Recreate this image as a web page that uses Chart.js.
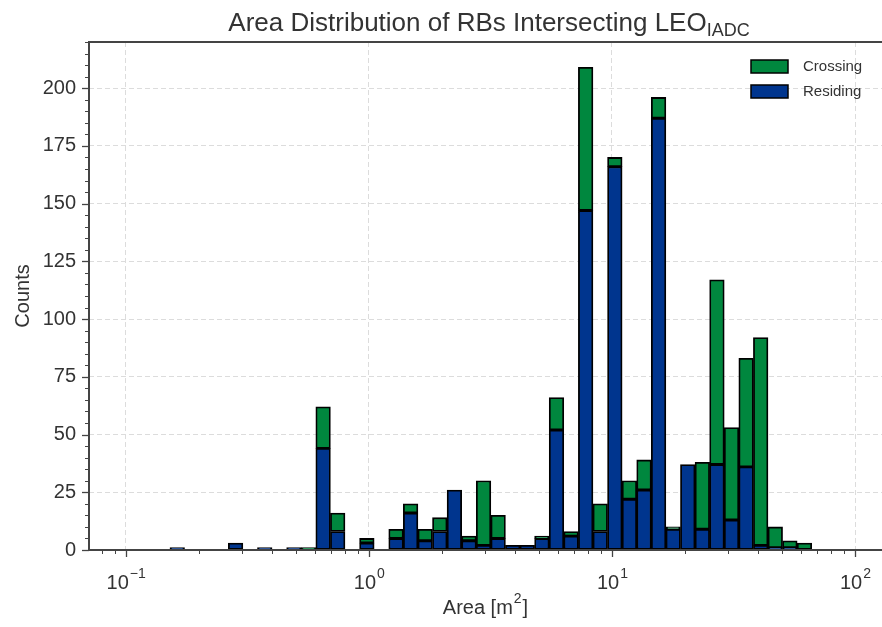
<!DOCTYPE html>
<html>
<head>
<meta charset="utf-8">
<script src="https://cdn.jsdelivr.net/npm/chart.js@4.4.0/dist/chart.umd.min.js"></script>
<style>
  html, body { margin: 0; padding: 0; background: #fff; }
</style>
</head>
<body>
<canvas id="hist" width="882" height="627"></canvas>
<script>
// histogram on log10(area), 44 equal-width bins
const binStart = -0.818;
const binWidth = 0.06;

const residing = [1, 0, 0, 0, 3, 0, 1, 0, 1, 0, 44, 8, 0, 3, 0, 5, 16, 4, 8, 26, 4, 2,
  5, 2, 2, 5, 52, 6, 147, 8, 166, 22, 26, 187, 9, 37, 9, 37, 13, 36, 2, 1, 1, 0];
const crossing = [0, 0, 0, 0, 0, 0, 0, 0, 0, 1, 18, 8, 0, 2, 0, 4, 4, 5, 6, 0, 2, 28,
  10, 0, 0, 1, 14, 2, 62, 12, 4, 8, 13, 9, 1, 0, 29, 80, 40, 47, 90, 9, 3, 3];

const xTicks = [-1, 0, 1, 2];          // decades, shown as 10^n
const yTicks = [0, 25, 50, 75, 100, 125, 150, 175, 200];

const FONT = '"Liberation Sans", Arial, sans-serif';
const TXT = '#333333';
const AXIS = '#444444';
const GREEN = '#00873e';
const BLUE = '#00358e';

const centers = residing.map((_, i) => binStart + binWidth * (i + 0.5));

// spines, ticks, tick labels, titles, legend
const decor = {
  id: 'decor',
  afterDraw(chart) {
    const c = chart.ctx;
    const a = chart.chartArea;
    const xs = chart.scales.x;
    const ys = chart.scales.y;
    c.save();

    // ticks
    c.strokeStyle = AXIS;
    xTicks.forEach(v => {
      const px = Math.round(xs.getPixelForValue(v)) + 0.5;
      c.lineWidth = 1.3;
      c.beginPath(); c.moveTo(px, a.bottom); c.lineTo(px, a.bottom + 7); c.stroke();
    });
    for (let d = -2; d <= 2; d++) {
      for (let k = 2; k <= 9; k++) {
        const v = d + Math.log10(k);
        if (v < xs.min || v > xs.max) continue;
        const px = Math.round(xs.getPixelForValue(v)) + 0.5;
        c.lineWidth = 1;
        c.beginPath(); c.moveTo(px, a.bottom); c.lineTo(px, a.bottom + 4); c.stroke();
      }
    }
    for (let v = 0; v <= 220; v += 5) {
      const py = Math.round(ys.getPixelForValue(v)) + 0.5;
      const major = v % 25 === 0 && v <= 200;
      c.lineWidth = major ? 1.3 : 1;
      c.beginPath(); c.moveTo(a.left, py); c.lineTo(a.left - (major ? 7 : 4), py); c.stroke();
    }

    // spines
    c.lineWidth = 2;
    c.beginPath();
    c.moveTo(a.right, a.top); c.lineTo(a.left, a.top);
    c.lineTo(a.left, a.bottom); c.lineTo(a.right, a.bottom);
    c.stroke();

    // x tick labels 10^n
    c.fillStyle = TXT;
    c.textBaseline = 'alphabetic';
    c.textAlign = 'left';
    xTicks.forEach(v => {
      const px = xs.getPixelForValue(v);
      const exp = v < 0 ? '\u2212' + Math.abs(v) : String(v);
      c.font = '20px ' + FONT;
      const wb = c.measureText('10').width;
      c.font = '14px ' + FONT;
      const we = c.measureText(exp).width;
      const x0 = px - (wb + we) / 2;
      c.font = '20px ' + FONT;
      c.fillText('10', x0, 589);
      c.font = '14px ' + FONT;
      c.fillText(exp, x0 + wb + 1, 578);
    });

    // x axis title with superscript
    c.font = '20px ' + FONT;
    const xa = 'Area [m', xb = ']';
    const wa = c.measureText(xa).width, wc = c.measureText(xb).width;
    c.font = '14px ' + FONT;
    const ws = c.measureText('2').width;
    const ax0 = (a.left + a.right) / 2 - (wa + ws + wc + 2) / 2;
    c.font = '20px ' + FONT;
    c.fillText(xa, ax0, 614);
    c.fillText(xb, ax0 + wa + ws + 2, 614);
    c.font = '14px ' + FONT;
    c.fillText('2', ax0 + wa + 1, 603);

    // title with subscript
    const t1 = 'Area Distribution of RBs Intersecting LEO';
    const t2 = 'IADC';
    c.font = '26px ' + FONT;
    const w1 = c.measureText(t1).width;
    c.font = '18px ' + FONT;
    const w2 = c.measureText(t2).width;
    const tx = 489 - (w1 + w2) / 2;
    c.font = '26px ' + FONT;
    c.fillText(t1, tx, 31);
    c.font = '18px ' + FONT;
    c.fillText(t2, tx + w1, 36);

    // legend
    const items = [chart.data.datasets[1], chart.data.datasets[0]];
    c.font = '15px ' + FONT;
    c.textBaseline = 'middle';
    items.forEach((ds, i) => {
      const by = 60 + i * 25;
      c.fillStyle = ds.backgroundColor;
      c.fillRect(751, by, 37, 13);
      c.lineWidth = 1.5;
      c.strokeStyle = '#000';
      c.strokeRect(751, by, 37, 13);
      c.fillStyle = TXT;
      c.fillText(ds.label, 803, by + 7);
    });

    c.restore();
  }
};

new Chart(document.getElementById('hist'), {
  type: 'bar',
  data: {
    datasets: [
      {
        label: 'Residing',
        data: centers.map((x, i) => ({ x: x, y: residing[i] })),
        backgroundColor: BLUE,
        borderColor: '#000',
        borderWidth: 1.8,
        borderSkipped: false,
        barPercentage: 1,
        categoryPercentage: 1
      },
      {
        label: 'Crossing',
        data: centers.map((x, i) => ({ x: x, y: crossing[i] })),
        backgroundColor: GREEN,
        borderColor: '#000',
        borderWidth: 1.8,
        borderSkipped: false,
        barPercentage: 1,
        categoryPercentage: 1
      }
    ]
  },
  options: {
    responsive: false,
    animation: false,
    devicePixelRatio: 1,
    layout: { padding: { top: 42, right: 0, left: 0, bottom: 0 } },
    plugins: {
      legend: { display: false },
      title: { display: false },
      tooltip: { enabled: false }
    },
    scales: {
      x: {
        type: 'linear',
        min: -1.151,
        max: 2.111,
        stacked: true,
        offset: false,
        afterBuildTicks: s => { s.ticks = xTicks.map(v => ({ value: v })); },
        afterFit: s => { s.height = 77; },
        ticks: { display: false },
        grid: { color: '#dcdcdc', lineWidth: 1, drawTicks: false, offset: false },
        border: { display: false, dash: [5, 3] },
        title: { display: false }
      },
      y: {
        min: 0,
        max: 220,
        stacked: true,
        afterBuildTicks: s => { s.ticks = yTicks.map(v => ({ value: v })); },
        afterFit: s => { s.width = 89; },
        ticks: { color: TXT, font: { family: FONT, size: 20 }, padding: 13 },
        grid: { color: '#dcdcdc', lineWidth: 1, drawTicks: false },
        border: { display: false, dash: [5, 3] },
        title: {
          display: true,
          text: 'Counts',
          color: TXT,
          font: { family: FONT, size: 20 },
          padding: { top: 11, bottom: 0 }
        }
      }
    }
  },
  plugins: [decor]
});
</script>
</body>
</html>
